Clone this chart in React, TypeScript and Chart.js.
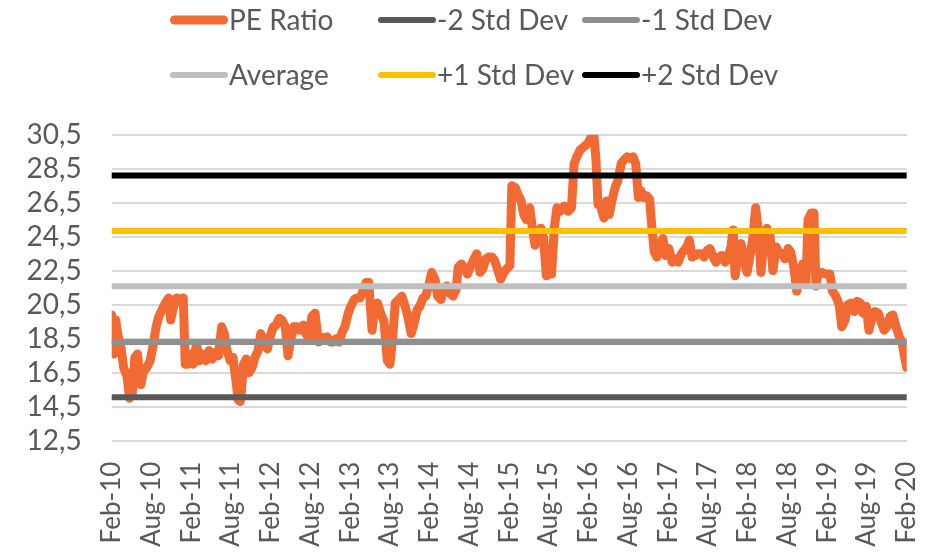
import React, { useEffect, useRef } from "react";
import { Chart, registerables } from "chart.js";

Chart.register(...registerables);

// ---- Data ----
const TICK_LABELS = [
  "Feb-10", "Aug-10", "Feb-11", "Aug-11", "Feb-12", "Aug-12", "Feb-13",
  "Aug-13", "Feb-14", "Aug-14", "Feb-15", "Aug-15", "Feb-16", "Aug-16",
  "Feb-17", "Aug-17", "Feb-18", "Aug-18", "Feb-19", "Aug-19", "Feb-20",
];

const SERIES_NAMES = ["PE Ratio", "-2 Std Dev", "-1 Std Dev", "Average", "+1 Std Dev", "+2 Std Dev"];

// months elapsed since Feb-2010
const peMonths = [
  0.0, 0.3, 0.6, 0.9, 1.4, 1.8, 2.3, 2.7, 3.1, 3.5, 3.9, 4.2, 4.4, 4.8, 5.3, 5.8,
  6.3, 6.7, 7.1, 7.6, 8.1, 8.6, 8.9, 9.3, 9.8, 10.4, 10.8, 11.1, 11.5, 11.9, 12.3,
  12.8, 13.2, 13.7, 14.2, 14.7, 15.2, 15.7, 16.1, 16.6, 17.0, 17.4, 17.9, 18.3,
  18.7, 19.1, 19.4,
  19.6, 19.9, 20.3, 20.7, 21.2, 21.6, 22.1, 22.5, 23.0, 23.5, 23.9, 24.4, 24.8,
  25.3, 25.7, 26.2, 26.6, 27.1, 27.5, 28.0, 28.4, 28.9, 29.3, 29.8, 30.2, 30.7,
  31.2, 31.6, 32.0, 32.5, 33.0, 33.4, 33.9, 34.3, 34.8, 35.2, 35.7, 36.1, 36.6,
  37.0, 37.5, 37.9, 38.4, 38.8, 39.3, 39.7,
  40.1, 40.6, 41.1, 41.6, 42.0, 42.4, 42.8, 43.3, 43.8, 44.3, 44.7, 45.2, 45.6,
  46.1, 46.5, 47.0, 47.4, 47.9, 48.3, 48.8, 49.2, 49.7, 50.1, 50.6, 51.0, 51.5,
  52.0, 52.3, 52.8, 53.3, 53.7, 54.2, 54.7, 55.1, 55.6, 56.0, 56.5, 56.9, 57.4,
  57.8, 58.3, 58.7, 59.2, 59.6, 60.1, 60.4, 60.9, 61.3,
  61.8, 62.2, 62.6, 63.1, 63.5, 63.9, 64.3, 64.8, 65.2, 65.6, 66.0, 66.4, 66.8,
  67.2, 67.7, 68.3, 68.9, 69.4, 69.8, 70.2, 70.7, 71.3, 71.9, 72.3, 72.8, 73.1,
  73.4, 73.8, 74.3, 74.7, 75.1, 75.5, 76.0, 76.4, 76.9, 77.3, 77.8, 78.2, 78.7,
  79.1, 79.5, 79.9, 80.3, 80.8, 81.2, 81.5,
  81.9, 82.3, 82.8, 83.2, 83.6, 84.1, 84.6, 85.0, 85.5, 86.0, 86.4, 86.8, 87.2,
  87.6, 88.1, 88.5, 89.0, 89.4, 89.9, 90.3, 90.8, 91.2, 91.7, 92.1, 92.6, 93.0,
  93.5, 93.8, 94.1, 94.6, 95.0, 95.5, 95.9, 96.4, 96.8, 97.2, 97.7, 98.0, 98.5,
  98.9, 99.4, 99.8, 100.3, 100.7, 101.2, 101.6,
  102.1, 102.5, 103.0, 103.4, 103.9, 104.3, 104.8, 105.1, 105.6, 106.0, 106.3,
  106.6, 107.2, 107.8, 108.4, 108.8, 109.3, 109.8, 110.2, 110.7, 111.1, 111.6,
  112.1, 112.5, 113.0, 113.4, 113.9, 114.3, 114.8, 115.2, 115.7, 116.1, 116.6,
  117.0, 117.5, 117.9, 118.4, 118.9, 119.3, 119.6, 120.0,
];

const peValues = [
  19.9, 17.6, 19.6, 18.8, 18.0, 16.8, 16.3, 15.0, 15.3, 17.4, 17.6, 16.5, 15.8, 16.6, 16.8, 17.2,
  18.2, 19.2, 19.8, 20.2, 20.6, 20.9, 19.6, 20.3, 20.9, 20.8, 20.9, 17.0, 17.0, 17.6, 17.0,
  18.2, 17.2, 17.6, 17.2, 17.8, 17.3, 17.7, 17.5, 19.2, 18.8, 17.8, 17.2, 17.4,
  16.2, 14.9, 14.8,
  15.5, 17.0, 17.3, 16.5, 16.8, 17.4, 17.8, 18.8, 18.2, 17.9, 18.6, 19.2, 19.3,
  19.7, 19.6, 19.2, 17.5, 18.6, 19.2, 19.2, 19.0, 19.3, 18.8, 18.5, 19.8, 20.0,
  18.3, 18.6, 18.5, 18.6, 18.3, 18.3, 18.5, 18.3, 18.9, 19.2, 20.0, 20.4, 20.8,
  20.9, 20.9, 21.3, 21.8, 21.8, 19.0, 20.5,
  20.6, 20.0, 19.5, 17.2, 17.0, 18.5, 20.6, 20.8, 21.0, 20.4, 19.8, 18.8, 19.3,
  20.2, 20.4, 20.9, 21.0, 21.7, 22.4, 22.0, 21.0, 20.8, 21.4, 21.6, 21.2, 21.0,
  21.4, 22.7, 22.9, 22.6, 22.3, 22.8, 23.2, 23.5, 22.4, 22.6, 23.2, 23.3, 23.3,
  23.1, 22.5, 22.0, 22.4, 22.6, 22.8, 27.5, 27.4, 27.0,
  26.6, 25.8, 25.5, 26.2, 25.0, 24.0, 24.8, 25.0, 24.4, 22.2, 23.8, 22.3, 25.0,
  26.2, 26.0, 26.3, 26.0, 26.2, 28.8, 29.2, 29.6, 29.8, 30.0, 30.3, 30.4, 29.0,
  26.4, 26.3, 25.6, 26.6, 25.8, 26.6, 27.4, 27.8, 28.8, 29.0, 29.2, 29.1, 29.2,
  28.8, 26.8, 27.2, 26.8, 26.9, 26.7, 25.2,
  23.6, 23.3, 24.0, 24.4, 23.4, 23.8, 23.0, 23.2, 23.0, 23.5, 23.7, 23.9, 24.3,
  23.3, 23.4, 23.5, 23.5, 23.3, 23.7, 23.8, 23.3, 23.0, 23.3, 23.4, 23.0, 23.2,
  24.0, 24.9, 22.2, 23.5, 24.1, 23.0, 22.4, 23.5, 24.5, 26.2, 24.5, 22.4, 24.5,
  25.0, 24.5, 22.5, 23.9, 23.6, 23.5, 23.2,
  23.8, 23.6, 22.6, 21.3, 22.3, 22.9, 21.8, 25.5, 25.9, 25.9, 21.6,
  22.3, 22.4, 22.3, 22.3, 21.3, 21.0, 20.5, 19.2, 19.6, 20.5, 20.6,
  20.1, 20.7, 20.6, 20.0, 20.4, 19.0, 19.8, 20.1, 20.0, 19.5, 19.0,
  19.2, 19.8, 19.9, 19.2, 18.6, 18.3, 17.6, 16.8,
];

const MINUS_2_SD = 15.05;
const MINUS_1_SD = 18.31;
const AVERAGE = 21.58;
const PLUS_1_SD = 24.84;
const PLUS_2_SD = 28.1;

const Y_TICKS = [12.5, 14.5, 16.5, 18.5, 20.5, 22.5, 24.5, 26.5, 28.5, 30.5];

const X_MIN = 0;
const X_MAX = 120;

const FONT = "Lato, 'Open Sans', sans-serif";
const TEXT_COLOR = "#595959";

const flat = (v: number) => [
  { x: X_MIN, y: v },
  { x: X_MAX, y: v },
];

const legendPlugin = {
  id: "gridLegend",
  afterDraw(chart: any) {
    const ctx = chart.ctx;
    const colX = [170, 378, 582];
    const rowY = [20, 75];
    const markerLen = 58;
    ctx.save();
    ctx.font = `28px ${FONT}`;
    ctx.textBaseline = "middle";
    ctx.textAlign = "left";
    chart.data.datasets.forEach((ds: any, i: number) => {
      const col = i % 3;
      const row = Math.floor(i / 3);
      const x = colX[col];
      const y = rowY[row];
      ctx.strokeStyle = ds.borderColor;
      ctx.lineWidth = ds.borderWidth;
      ctx.lineCap = "round";
      ctx.beginPath();
      ctx.moveTo(x + ds.borderWidth / 2, y);
      ctx.lineTo(x + markerLen - ds.borderWidth / 2, y);
      ctx.stroke();
      ctx.fillStyle = TEXT_COLOR;
      ctx.fillText(ds.label, x + markerLen + 1, y + 1);
    });
    ctx.restore();
  },
};

export default function App() {
  const canvasRef = useRef<HTMLCanvasElement | null>(null);

  useEffect(() => {
    document.body.style.margin = "0";
    const canvas = canvasRef.current;
    if (!canvas) return;

    const pe = peMonths.map((m, i) => ({ x: m, y: peValues[i] }));
    const lineDs = (label: string, data: any, color: string, width: number, order: number) => ({
      label,
      data,
      borderColor: color,
      backgroundColor: color,
      borderWidth: width,
      pointRadius: 0,
      pointHoverRadius: 0,
      tension: 0,
      fill: false,
      order,
      borderCapStyle: "round" as const,
      borderJoinStyle: "round" as const,
    });

    const chart = new Chart(canvas, {
      type: "line",
      data: {
        datasets: [
          lineDs(SERIES_NAMES[0], pe, "#F26A33", 9, 1),
          lineDs(SERIES_NAMES[1], flat(MINUS_2_SD), "#595959", 6, 0),
          lineDs(SERIES_NAMES[2], flat(MINUS_1_SD), "#8F8F8F", 6, 0),
          lineDs(SERIES_NAMES[3], flat(AVERAGE), "#BFBFBF", 6, 0),
          lineDs(SERIES_NAMES[4], flat(PLUS_1_SD), "#FFC000", 6, 0),
          lineDs(SERIES_NAMES[5], flat(PLUS_2_SD), "#000000", 6, 0),
        ] as any,
      },
      options: {
        animation: false,
        responsive: true,
        maintainAspectRatio: false,
        layout: { padding: { top: 134.7, right: 21.3, bottom: 0, left: 0 } },
        plugins: {
          legend: { display: false },
          tooltip: { enabled: false },
          title: { display: false },
        },
        scales: {
          x: {
            type: "linear",
            min: X_MIN,
            max: X_MAX,
            grid: { display: false, drawTicks: false },
            border: { display: false },
            ticks: {
              stepSize: 6,
              autoSkip: false,
              minRotation: 90,
              maxRotation: 90,
              padding: 21,
              color: TEXT_COLOR,
              font: { family: FONT, size: 26 },
              callback: (value: any) => TICK_LABELS[Math.round(Number(value) / 6)] ?? "",
            },
            afterFit: (scale: any) => {
              scale.height = 554 - 440.7;
              scale.paddingLeft = 0;
              scale.paddingRight = 0;
            },
          },
          y: {
            type: "linear",
            min: Y_TICKS[0],
            max: Y_TICKS[Y_TICKS.length - 1],
            grid: {
              display: true,
              drawOnChartArea: true,
              color: "rgb(217,217,217)",
              lineWidth: 2,
              drawTicks: false,
            },
            border: { display: false },
            ticks: {
              autoSkip: false,
              padding: 30,
              color: TEXT_COLOR,
              font: { family: FONT, size: 28 },
              callback: (value: any) => Number(value).toFixed(1).replace(".", ","),
            },
            afterBuildTicks: (scale: any) => {
              scale.ticks = Y_TICKS.map((v) => ({ value: v }));
            },
            afterFit: (scale: any) => {
              scale.width = 111.7;
              scale.paddingTop = 0;
              scale.paddingBottom = 0;
            },
          },
        },
      },
      plugins: [legendPlugin],
    });

    return () => chart.destroy();
  }, []);

  return (
    <div style={{ position: "absolute", left: 0, top: 0, width: 928, height: 554 }}>
      <canvas ref={canvasRef} />
    </div>
  );
}
